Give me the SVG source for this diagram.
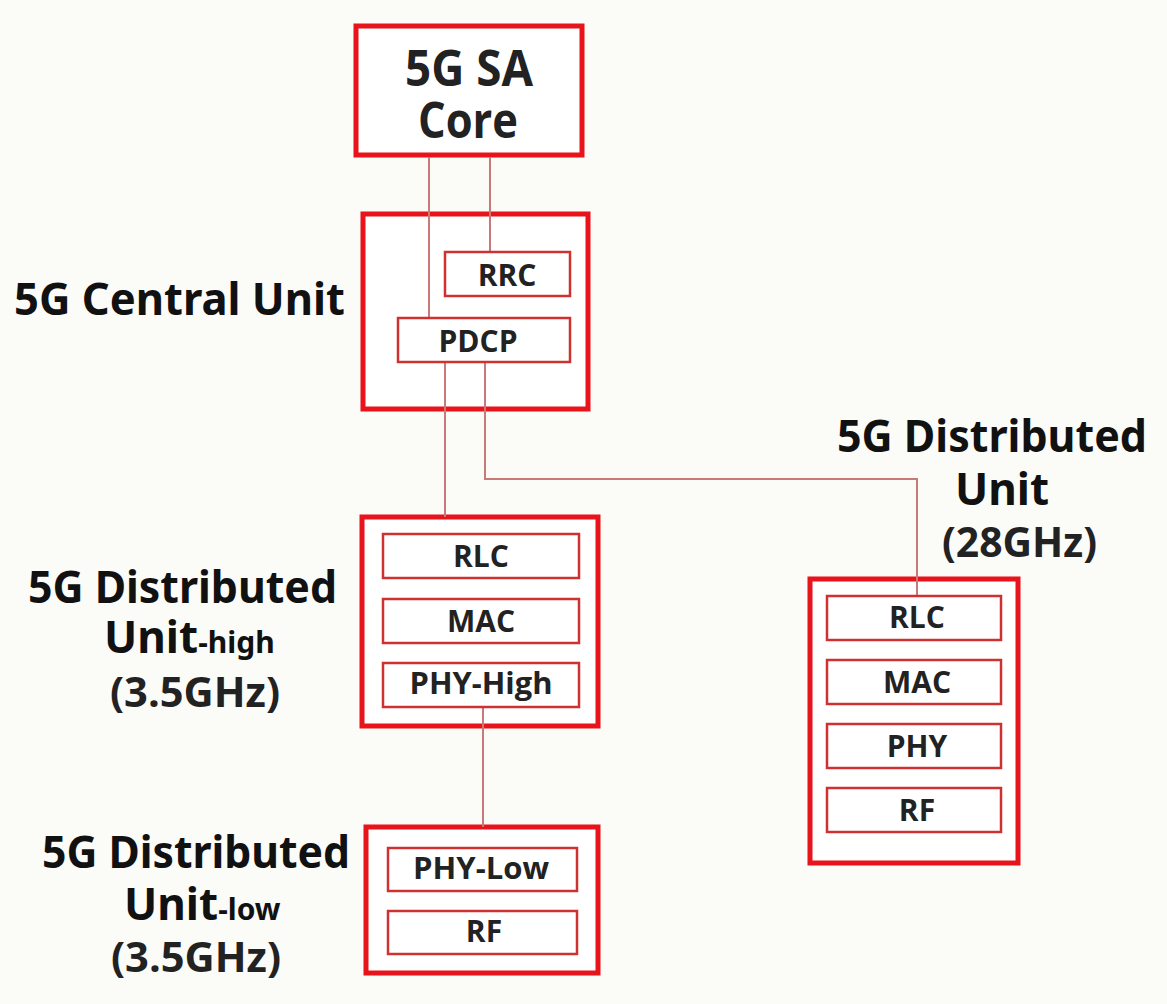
<svg xmlns="http://www.w3.org/2000/svg" width="1167" height="1004" viewBox="0 0 1167 1004">
<style>
.bg{fill:#fbfbf8}
.outer{fill:#ffffff;stroke:#e8131b;stroke-width:5}
.inner{fill:#ffffff;stroke:#cf3030;stroke-width:2.5}
.conn{fill:none;stroke:#c97a78;stroke-width:2}
.lbl{font-family:"Open Sans","Liberation Sans",sans-serif;font-weight:bold;font-size:30px;fill:#222222;text-anchor:middle}
.core{font-family:"Open Sans","Liberation Sans",sans-serif;font-weight:bold;font-size:50px;fill:#222222;text-anchor:middle}
.side{font-family:"Noto Sans","Liberation Sans",sans-serif;font-weight:bold;font-size:44px;fill:#111111}
.ghz{font-family:"Open Sans","Liberation Sans",sans-serif;font-weight:bold;font-size:42px;fill:#222222}
</style>
<rect class="bg" x="0" y="0" width="1167" height="1004"/>

<g id="core">
<rect class="outer" x="356" y="26" width="226" height="129"/>
<text class="core" x="469" y="86" textLength="128" lengthAdjust="spacingAndGlyphs">5G SA</text>
<text class="core" x="468" y="138" textLength="100" lengthAdjust="spacingAndGlyphs">Core</text>
</g>

<g id="cu">
<rect class="outer" x="363" y="214" width="225" height="195"/>
<text class="side" x="14" y="315" textLength="331" lengthAdjust="spacingAndGlyphs">5G Central Unit</text>
</g>

<g id="du-high">
<rect class="outer" x="362" y="517" width="236" height="209"/>
<text class="side" x="28" y="603" textLength="309" lengthAdjust="spacingAndGlyphs">5G Distributed</text>
<text class="side" x="104" y="653">Unit<tspan font-size="30">-high</tspan></text>
<text class="ghz" x="110" y="707" textLength="170" lengthAdjust="spacingAndGlyphs">(3.5GHz)</text>
</g>

<g id="du-low">
<rect class="outer" x="366" y="827" width="232" height="146"/>
<text class="side" x="42" y="868" textLength="308" lengthAdjust="spacingAndGlyphs">5G Distributed</text>
<text class="side" x="124" y="920">Unit<tspan font-size="30">-low</tspan></text>
<text class="ghz" x="111" y="972" textLength="170" lengthAdjust="spacingAndGlyphs">(3.5GHz)</text>
</g>

<g id="du-28">
<rect class="outer" x="810" y="579" width="208" height="284"/>
<text class="side" x="837" y="452" textLength="310" lengthAdjust="spacingAndGlyphs">5G Distributed</text>
<text class="side" x="1002" y="505" text-anchor="middle">Unit</text>
<text class="ghz" x="942" y="557" textLength="155" lengthAdjust="spacingAndGlyphs">(28GHz)</text>
</g>

<g id="connectors">
<line class="conn" x1="429" y1="157" x2="429" y2="318"/>
<line class="conn" x1="490" y1="157" x2="490" y2="252"/>
<line class="conn" x1="445" y1="363" x2="445" y2="517"/>
<path class="conn" d="M485 363 V479 H917 V596"/>
<line class="conn" x1="483" y1="708" x2="483" y2="827"/>
</g>

<g id="rrc"><rect class="inner" x="445" y="252" width="125" height="44"/><text class="lbl" x="507" y="286">RRC</text></g>
<g id="pdcp"><rect class="inner" x="398" y="318" width="172" height="44"/><text class="lbl" x="478" y="352">PDCP</text></g>

<g id="rlc-h"><rect class="inner" x="383" y="534" width="196" height="44"/><text class="lbl" x="481" y="567">RLC</text></g>
<g id="mac-h"><rect class="inner" x="383" y="599" width="196" height="44"/><text class="lbl" x="481" y="632">MAC</text></g>
<g id="phy-high"><rect class="inner" x="383" y="663" width="196" height="44"/><text class="lbl" x="481" y="694" textLength="143" lengthAdjust="spacingAndGlyphs">PHY-High</text></g>

<g id="phy-low"><rect class="inner" x="388" y="848" width="189" height="43"/><text class="lbl" x="481" y="879" textLength="136" lengthAdjust="spacingAndGlyphs">PHY-Low</text></g>
<g id="rf-low"><rect class="inner" x="388" y="911" width="189" height="43"/><text class="lbl" x="484" y="942">RF</text></g>

<g id="rlc-28"><rect class="inner" x="827" y="596" width="174" height="44"/><text class="lbl" x="917" y="628">RLC</text></g>
<g id="mac-28"><rect class="inner" x="827" y="660" width="174" height="44"/><text class="lbl" x="917" y="693">MAC</text></g>
<g id="phy-28"><rect class="inner" x="827" y="724" width="174" height="44"/><text class="lbl" x="917" y="757">PHY</text></g>
<g id="rf-28"><rect class="inner" x="827" y="788" width="174" height="44"/><text class="lbl" x="917" y="821">RF</text></g>
</svg>
